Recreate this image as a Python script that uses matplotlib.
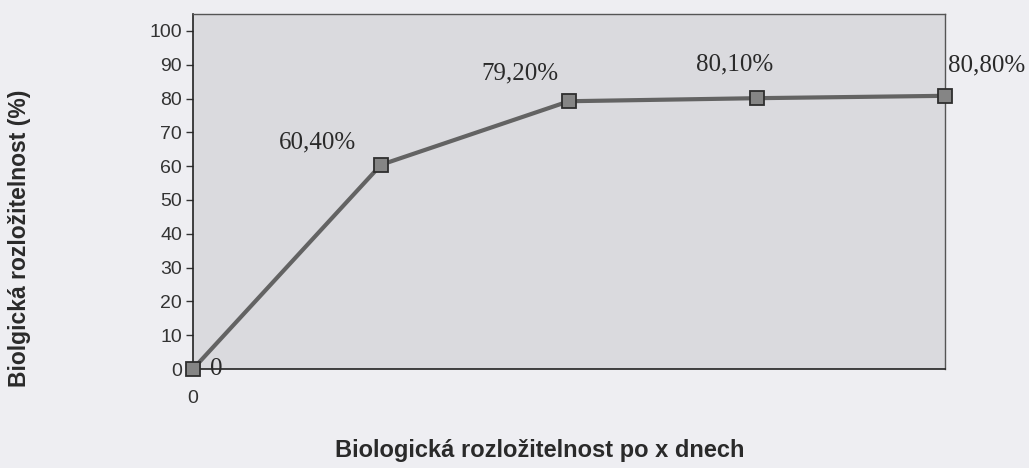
import matplotlib
matplotlib.use("Agg")
import matplotlib.pyplot as plt

days = [0, 1, 2, 3, 4]
values = [0.0, 60.4, 79.2, 80.1, 80.8]
point_labels = ["0", "60,40%", "79,20%", "80,10%", "80,80%"]
x_tick_labels = ["0"]
y_ticks = [0, 10, 20, 30, 40, 50, 60, 70, 80, 90, 100]

label_offsets = [(12, 0), (-46, 16), (-35, 20), (-16, 24), (30, 22)]
label_align = [("left", "center"), ("center", "center"), ("center", "center"),
               ("center", "center"), ("center", "center")]

fig = plt.figure(figsize=(10.29, 4.68), dpi=100)
fig.patch.set_facecolor("#eeeef2")
ax = fig.add_axes([193/1029, 1 - 369/468, (945-193)/1029, (369-14)/468])
ax.set_facecolor("#dadade")

ax.plot(days, values, color="#636363", lw=3, marker="s", markersize=10,
        markerfacecolor="#858585", markeredgecolor="#2e2e2e", markeredgewidth=1.3,
        clip_on=False, zorder=3)

for x, y, lab, off, (ha, va) in zip(days, values, point_labels, label_offsets, label_align):
    ax.annotate(lab, (x, y), xytext=off, textcoords="offset points",
                ha=ha, va=va, fontsize=18, family="Liberation Serif", color="#2a2a2a")

ax.set_xlim(0, 4)
ax.set_ylim(0, 105)
ax.set_yticks(y_ticks)
ax.set_xticks([0])
ax.set_xticklabels(x_tick_labels)
ax.tick_params(axis="y", length=5, width=1, colors="#333333", labelsize=14, pad=3)
ax.tick_params(axis="x", length=0, labelsize=14, pad=15, colors="#333333")
for lab in ax.get_xticklabels() + ax.get_yticklabels():
    lab.set_family("Liberation Sans")

for s in ["left", "bottom"]:
    ax.spines[s].set_color("#222222")
    ax.spines[s].set_linewidth(1.2)
for s in ["top", "right"]:
    ax.spines[s].set_color("#555555")
    ax.spines[s].set_linewidth(1.0)

fig.text(20/1029, 1 - 238/468, "Biolgická rozložitelnost (%)", rotation=90,
         ha="center", va="center", fontsize=16.5, fontweight="bold",
         family="Liberation Sans", color="#2a2a2a")
fig.text(540/1029, 1 - 450/468, "Biologická rozložitelnost po x dnech",
         ha="center", va="center", fontsize=17, fontweight="bold",
         family="Liberation Sans", color="#2a2a2a")

fig.savefig("out.png", dpi=100, facecolor=fig.get_facecolor())
